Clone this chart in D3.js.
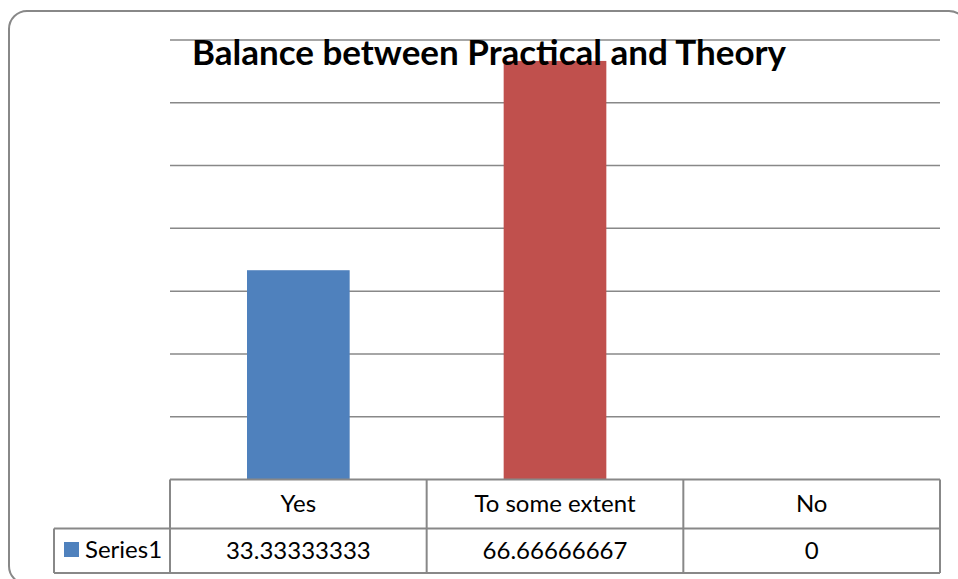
<!DOCTYPE html>
<html>
<head>
<meta charset="utf-8">
<script src="https://cdn.jsdelivr.net/npm/d3@7"></script>
<style>
  body { margin: 0; background: #fff; }
  svg { display: block; font-family: Lato, "Open Sans", sans-serif; }
</style>
</head>
<body>
<div id="chart"></div>
<script>
// data
const title = 'Balance between Practical and Theory'
const categories = ['Yes', 'To some extent', 'No']
const series1 = [33.33333333, 66.66666667, 0]
const seriesName = 'Series1'
const valueLabels = ['33.33333333', '66.66666667', '0']
const yTicks = [10, 20, 30, 40, 50, 60, 70]

const width = 958
const height = 579
const plot = { left: 170, right: 940, top: 40, bottom: 479.5 }
const rowH = [49, 44.5]
const gridColor = '#888888'

const svg = d3.select('#chart')
    .append('svg')
    .attr('width', width)
    .attr('height', height)

// outer frame (bottom and right edges run just past the window)
svg.append('rect')
    .attr('x', 9)
    .attr('y', 11)
    .attr('width', 958)
    .attr('height', 573)
    .attr('rx', 18)
    .attr('fill', '#fff')
    .attr('stroke', gridColor)
    .attr('stroke-width', 2)

const x = d3.scaleBand()
    .domain(categories)
    .range([plot.left, plot.right])

const y = d3.scaleLinear()
    .domain([0, 70])
    .range([plot.bottom, plot.top])

// gridlines
svg.append('g')
    .selectAll('line')
    .data(yTicks)
    .enter()
    .append('line')
    .attr('x1', plot.left)
    .attr('x2', plot.right)
    .attr('y1', d => y(d))
    .attr('y2', d => y(d))
    .attr('stroke', gridColor)
    .attr('stroke-width', 1.5)

// bars
const colors = ['#4F81BD', '#C0504D', '#9BBB59']
const barW = x.bandwidth() * 0.4
svg.append('g')
    .selectAll('rect')
    .data(series1)
    .enter()
    .append('rect')
    .attr('x', (d, i) => x(categories[i]) + (x.bandwidth() - barW) / 2)
    .attr('y', d => y(d))
    .attr('width', barW)
    .attr('height', d => y(0) - y(d))
    .attr('fill', (d, i) => colors[i])

// title
svg.append('text')
    .attr('x', 489)
    .attr('y', 65)
    .attr('text-anchor', 'middle')
    .attr('font-size', 35)
    .attr('font-weight', 'bold')
    .attr('fill', '#000')
    .text(title)

// data table
const table = svg.append('g')
const r0 = plot.bottom, r1 = r0 + rowH[0], r2 = r1 + rowH[1]
const legendLeft = 54

const tline = (x1, y1, x2, y2) => table.append('line')
    .attr('x1', x1).attr('y1', y1).attr('x2', x2).attr('y2', y2)
    .attr('stroke', gridColor).attr('stroke-width', 2)

tline(plot.left, r0, plot.right, r0)
tline(legendLeft, r1, plot.right, r1)
tline(legendLeft, r2, plot.right, r2)
tline(legendLeft, r1, legendLeft, r2)
categories.forEach(c => tline(x(c), r0, x(c), r2))
tline(plot.right, r0, plot.right, r2)

table.selectAll('text.cat')
    .data(categories)
    .enter()
    .append('text')
    .attr('class', 'cat')
    .attr('x', d => x(d) + x.bandwidth() / 2)
    .attr('y', r0 + 32)
    .attr('text-anchor', 'middle')
    .attr('font-size', 24)
    .attr('fill', '#000')
    .text(d => d)

table.selectAll('text.val')
    .data(valueLabels)
    .enter()
    .append('text')
    .attr('class', 'val')
    .attr('x', (d, i) => x(categories[i]) + x.bandwidth() / 2)
    .attr('y', r1 + 30)
    .attr('text-anchor', 'middle')
    .attr('font-size', 24)
    .attr('fill', '#000')
    .text(d => d)

// legend key
table.append('rect')
    .attr('x', 64)
    .attr('y', 542)
    .attr('width', 15)
    .attr('height', 15)
    .attr('fill', colors[0])

table.append('text')
    .attr('x', 85)
    .attr('y', r1 + 29)
    .attr('font-size', 24)
    .attr('fill', '#000')
    .text(seriesName)
</script>
</body>
</html>
